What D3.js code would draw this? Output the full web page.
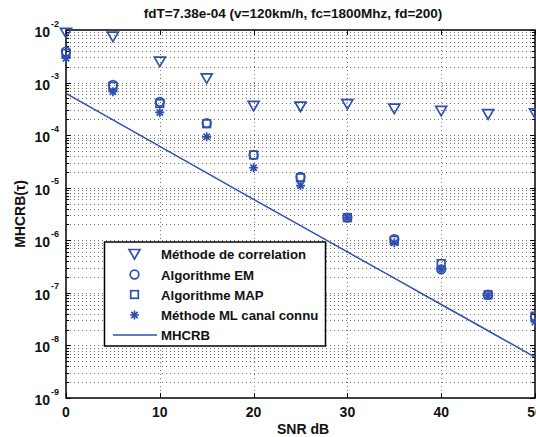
<!DOCTYPE html>
<html>
<head>
<meta charset="utf-8">
<script src="https://cdn.jsdelivr.net/npm/d3@7"></script>
<style>
  html, body { margin: 0; padding: 0; background: #fff; }
  svg { display: block; font-family: "Liberation Sans", Arial, sans-serif; font-weight: bold; }
</style>
</head>
<body>
<svg id="chart" width="536" height="437"></svg>
<script>
// SNR values (dB)
const snr = [0, 5, 10, 15, 20, 25, 30, 35, 40, 45, 50];
// Estimator MSE per SNR
const correlation = [8.8e-3, 7.5e-3, 2.5e-3, 1.2e-3, 3.6e-4, 3.5e-4, 3.9e-4, 3.2e-4, 2.9e-4, 2.5e-4, 2.6e-4];
const emAlgo      = [3.9e-3, 9.0e-4, 4.3e-4, 1.7e-4, 4.2e-5, 1.6e-5, 2.7e-6, 1.05e-6, 2.8e-7, 9.2e-8, 3.5e-8];
const mapAlgo     = [3.6e-3, 8.5e-4, 4.0e-4, 1.65e-4, 4.2e-5, 1.55e-5, 2.7e-6, 1.0e-6, 3.6e-7, 9.2e-8, 3.6e-8];
const mlKnown     = [2.9e-3, 6.7e-4, 2.7e-4, 9.3e-5, 2.4e-5, 1.1e-5, 2.7e-6, 9.0e-7, 2.8e-7, 9.0e-8, 2.8e-8];
// Modified hybrid Cramer-Rao bound
const mhcrb       = [6.2e-4, 1.95e-4, 6.1e-5, 1.92e-5, 6.0e-6, 1.9e-6, 6.0e-7, 1.9e-7, 6.0e-8, 1.9e-8, 6.0e-9];

const xTicks = [0, 10, 20, 30, 40, 50];
const yDecades = [-9, -8, -7, -6, -5, -4, -3, -2];
const legendLabels = ["Méthode de correlation", "Algorithme EM", "Algorithme MAP", "Méthode ML canal connu", "MHCRB"];

const title = "fdT=7.38e-04 (v=120km/h, fc=1800Mhz, fd=200)";
const xLabel = "SNR dB";
const yLabel = "MHCRB(τ)";

const blue = "#2f4fae";
const svg = d3.select("#chart");
const L = 66, R = 535, T = 30, B = 398;

const x = d3.scaleLinear().domain([0, 50]).range([L, R]);
const y = d3.scaleLog().domain([1e-9, 1e-2]).range([B, T]);

// grid values: every k*10^n inside the domain
const gridVals = [];
yDecades.forEach(n => {
  for (let k = 1; k <= 9; k++) {
    const v = k * Math.pow(10, n);
    if (v <= 1e-2 * 1.0001) gridVals.push(v);
  }
});

const grid = svg.append("g").attr("stroke", "#000").attr("stroke-width", 1)
  .attr("stroke-dasharray", "1,3").attr("opacity", 0.55);
grid.selectAll("line.h").data(gridVals.filter(v => v > 1e-9 * 1.001 && v < 1e-2 * 0.999)).join("line")
  .attr("x1", L).attr("x2", R)
  .attr("y1", d => Math.round(y(d)) + 0.5).attr("y2", d => Math.round(y(d)) + 0.5);
grid.selectAll("line.v").data(xTicks.filter(t => t > 0 && t < 50)).join("line")
  .attr("y1", T).attr("y2", B)
  .attr("x1", d => Math.round(x(d)) + 0.5).attr("x2", d => Math.round(x(d)) + 0.5);

// ticks
const ticks = svg.append("g").attr("stroke", "#000").attr("stroke-width", 1);
gridVals.forEach(v => {
  const major = Math.abs(Math.log10(v) - Math.round(Math.log10(v))) < 1e-6;
  const len = major ? 5 : 3;
  const yy = Math.round(y(v)) + 0.5;
  ticks.append("line").attr("x1", L).attr("x2", L + len).attr("y1", yy).attr("y2", yy);
  ticks.append("line").attr("x1", R).attr("x2", R - len).attr("y1", yy).attr("y2", yy);
});
xTicks.forEach(t => {
  const xx = Math.round(x(t)) + 0.5;
  ticks.append("line").attr("x1", xx).attr("x2", xx).attr("y1", B).attr("y2", B - 5);
  ticks.append("line").attr("x1", xx).attr("x2", xx).attr("y1", T).attr("y2", T + 5);
});

// axes box
svg.append("rect").attr("x", L).attr("y", T).attr("width", R - L).attr("height", B - T)
  .attr("fill", "none").attr("stroke", "#000").attr("stroke-width", 1.5);

// tick labels
svg.append("g").selectAll("text").data(xTicks).join("text")
  .attr("x", d => x(d)).attr("y", 417).attr("text-anchor", "middle")
  .attr("font-size", 14).attr("fill", "#111").text(d => d);

svg.append("g").selectAll("text").data(yDecades).join("text")
  .attr("x", 50).attr("y", d => y(Math.pow(10, d)) + 7).attr("text-anchor", "end")
  .attr("font-size", 14).attr("fill", "#111").text("10");
svg.append("g").selectAll("text").data(yDecades).join("text")
  .attr("x", 51).attr("y", d => y(Math.pow(10, d)) - 3.5)
  .attr("font-size", 9).attr("fill", "#111").text(d => "-" + Math.abs(d));

// title and axis labels
svg.append("text").attr("x", 293).attr("y", 18).attr("text-anchor", "middle")
  .attr("font-size", 13.5).attr("fill", "#111").text(title);
svg.append("text").attr("x", 303).attr("y", 434).attr("text-anchor", "middle")
  .attr("font-size", 14).attr("fill", "#111").text(xLabel);
svg.append("text").attr("transform", "translate(25,214) rotate(-90)").attr("text-anchor", "middle")
  .attr("font-size", 14).attr("fill", "#111").text(yLabel);

// marker painters
const markers = {
  tri: (g, cx, cy) => g.append("path")
    .attr("d", `M${cx - 5.5},${cy - 4.5}L${cx + 5.5},${cy - 4.5}L${cx},${cy + 5}Z`),
  circ: (g, cx, cy) => g.append("circle").attr("cx", cx).attr("cy", cy).attr("r", 4.3),
  sq: (g, cx, cy) => g.append("rect").attr("x", cx - 3.8).attr("y", cy - 3.8).attr("width", 7.6).attr("height", 7.6),
  star: (g, cx, cy) => {
    const p = [];
    const r = 4.5;
    for (let i = 0; i < 4; i++) {
      const a = i * Math.PI / 4;
      p.push(`M${cx - r * Math.cos(a)},${cy - r * Math.sin(a)}L${cx + r * Math.cos(a)},${cy + r * Math.sin(a)}`);
    }
    return g.append("path").attr("d", p.join(""));
  }
};

const seriesList = [
  { vals: correlation, mk: "tri" },
  { vals: emAlgo, mk: "circ" },
  { vals: mapAlgo, mk: "sq" },
  { vals: mlKnown, mk: "star" }
];

// bound line
svg.append("defs").append("clipPath").attr("id", "plotClip")
  .append("rect").attr("x", L).attr("y", T).attr("width", R - L).attr("height", B - T);
svg.append("path").datum(snr.map((s, i) => [s, mhcrb[i]]))
  .attr("clip-path", "url(#plotClip)")
  .attr("fill", "none").attr("stroke", blue).attr("stroke-width", 1.5)
  .attr("d", d3.line().x(d => x(d[0])).y(d => y(d[1])));

// point series
seriesList.forEach(s => {
  const g = svg.append("g").attr("fill", "none").attr("stroke", blue).attr("stroke-width", 1.7);
  snr.forEach((v, i) => markers[s.mk](g, x(v), y(s.vals[i])));
});

// legend
const lg = svg.append("g");
lg.append("rect").attr("x", 104.5).attr("y", 242).attr("width", 221).attr("height", 104)
  .attr("fill", "#fff").attr("stroke", "#000").attr("stroke-width", 1.5);
const rowY = [254, 274.5, 294.5, 315, 335];
seriesList.forEach((s, i) => {
  const g = lg.append("g").attr("fill", "none").attr("stroke", blue).attr("stroke-width", 1.7);
  markers[s.mk](g, 134.5, rowY[i]);
});
lg.append("line").attr("x1", 113).attr("x2", 157).attr("y1", rowY[4]).attr("y2", rowY[4])
  .attr("stroke", blue).attr("stroke-width", 1.5);
lg.selectAll("text").data(legendLabels).join("text")
  .attr("x", 161).attr("y", (d, i) => rowY[i] + 5).attr("font-size", 13.2).attr("fill", "#111")
  .text(d => d);
</script>
</body>
</html>
